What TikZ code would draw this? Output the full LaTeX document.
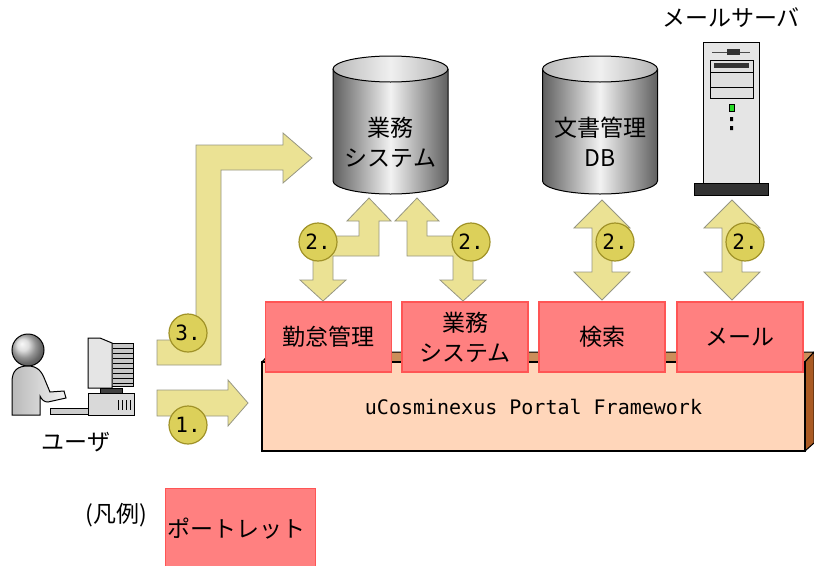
\documentclass[tikz,border=0pt]{standalone}
\usepackage{fontspec}
\setmainfont{Noto Sans CJK JP}
\newfontfamily\latinmono{DejaVu Sans Mono}
\usetikzlibrary{arrows.meta, positioning, calc}
\definecolor{portletred}{RGB}{255,128,128}
\definecolor{portletline}{RGB}{255,85,85}
\definecolor{framepeach}{RGB}{255,214,186}
\definecolor{frametop}{RGB}{204,142,90}
\definecolor{frameside}{RGB}{170,90,35}
\definecolor{arrowyellow}{RGB}{235,226,148}
\definecolor{arrowline}{RGB}{150,150,130}
\definecolor{ballyellow}{RGB}{220,208,90}
\definecolor{ballline}{RGB}{160,146,40}
\definecolor{ledgreen}{RGB}{40,220,40}
\newcommand{\jfont}{\fontsize{23}{30}\selectfont}

\begin{document}
\begin{tikzpicture}[x=1pt, y=-1pt,
  portlet/.style={draw=portletline, fill=portletred, line width=1.2pt, minimum width=126pt, minimum height=70pt, inner sep=0pt, align=center, font=\jfont},
  blockarrow/.style={fill=arrowyellow, draw=arrowline, line width=0.8pt, line join=miter},
  numball/.style={circle, fill=ballyellow, draw=ballline, line width=1.2pt, minimum size=38pt, inner sep=0pt, font=\latinmono\fontsize{21}{21}\selectfont},
  cylbody/.style={left color=gray!75!black, right color=gray!75!black, middle color=gray!10},
  cyltop/.style={left color=gray!55, right color=gray!60, middle color=gray!12},
]
  \useasboundingbox (0,0) rectangle (814,565);

  % databases
  \foreach \cx in {390.5, 600} {
    \shade[cylbody] (\cx-57.5,69) -- (\cx-57.5,181) arc[start angle=180, end angle=0, x radius=57.5, y radius=13] -- (\cx+57.5,69) -- cycle;
    \draw[line width=1pt] (\cx-57.5,69) -- (\cx-57.5,181) arc[start angle=180, end angle=0, x radius=57.5, y radius=13] -- (\cx+57.5,69);
    \shade[cyltop, draw=black, line width=1pt] (\cx,69) ellipse[x radius=57.5, y radius=13];
  }
  \node[font=\jfont, align=center] (gyomudb) at (390.5,142) {業務\\システム};
  \node[font=\jfont, align=center] (bunshodb) at (600,141.5) {文書管理\\DB};

  % mail server
  \node[font=\jfont] (mailsrv) at (731,18) {メールサーバ};
  \filldraw[fill=gray!20, line width=1pt] (703,42) rectangle (759,183);
  \draw[gray!60!black, line width=1pt] (712,52) -- (750,52);
  \fill[gray!40!black] (727,49) rectangle (740,55);
  \filldraw[fill=gray!25, line width=1pt] (710,60) rectangle (753,98);
  \fill[gray!40!black] (714,63) rectangle (749,68);
  \draw[line width=0.8pt] (710,72) -- (753,72) (710,87) -- (753,87);
  \filldraw[fill=ledgreen, draw=black, line width=0.6pt] (729,104) rectangle (734,111);
  \fill (730,117) rectangle (733,121) (730,126) rectangle (733,130);
  \filldraw[fill=gray!40!black, line width=1pt] (694,183) rectangle (768,195);

  % user at the terminal
  \shade[ball color=gray!35] (28,350) circle (16);
  \draw[line width=1pt] (28,350) circle (16);
  \shade[left color=gray!55, right color=gray!10, draw=black, line width=1pt]
    (12,415) -- (12,382) .. controls (12,370) and (18,366) .. (28,366)
    .. controls (38,366) and (42,372) .. (45,380) -- (50,392) -- (64,391) -- (66,398)
    -- (48,402) .. controls (44,402) and (42,400) .. (40,396) -- (40,415) -- cycle;
  \filldraw[fill=gray!40, line width=1pt] (50,408) rectangle (88,414);
  \filldraw[fill=gray!45, line width=1pt] (110,343) rectangle (133,386);
  \foreach \i in {0,...,7}
    \draw[line width=0.8pt] (113,{348+\i*5}) -- (133,{348+\i*5});
  \filldraw[fill=gray!20, line width=1pt] (88,338) -- (100,338) -- (112,343) -- (112,388) -- (88,388) -- cycle;
  \filldraw[fill=gray!50!black, line width=1pt] (100,388) rectangle (122,393);
  \filldraw[fill=gray!30, line width=1pt] (88,393) rectangle (134,415);
  \foreach \i in {0,...,3}
    \draw[line width=1pt] ({118+\i*4},400) -- ({118+\i*4},410);
  \node[font=\jfont] (user) at (76,442) {ユーザ};

  % framework
  \filldraw[fill=frametop, line width=1pt] (262,362) -- (271,352) -- (814,352) -- (805,362) -- cycle;
  \filldraw[fill=frameside, line width=1pt] (805,362) -- (814,352) -- (814,443) -- (805,451) -- cycle;
  \node[draw, fill=framepeach, line width=1.2pt, minimum width=543pt, minimum height=89pt, inner sep=0pt,
        font=\latinmono\fontsize{20}{20}\selectfont] (framework) at (533.5,406.5) {uCosminexus Portal Framework};

  % portlets
  \node[portlet] (kintai) at (328.5,337) {勤怠管理};
  \node[portlet] (gyomu) at (465,337) {業務\\システム};
  \node[portlet] (kensaku) at (602,337) {検索};
  \node[portlet] (mail) at (740,337) {メール};

  % request arrows
  \filldraw[blockarrow] (157,340) -- (196,340) -- (196,145) -- (283,145) -- (283,133) -- (312,158)
    -- (283,183) -- (283,170) -- (221,170) -- (221,365) -- (157,365) -- cycle;
  \filldraw[blockarrow] (157,390) -- (228,390) -- (228,380) -- (248,403) -- (228,426) -- (228,416) -- (157,416) -- cycle;
  \foreach \s in {1,-1} {
    \begin{scope}[shift={(393,0)}, xscale=\s]
      \filldraw[blockarrow] (-24,198) -- (-2,221) -- (-14,221) -- (-14,256) -- (-60,256) -- (-60,280)
        -- (-47,280) -- (-70,301) -- (-93,280) -- (-80,280) -- (-80,236) -- (-34,236) -- (-34,221) -- (-46,221) -- cycle;
    \end{scope}
  }
  \foreach \ax in {602,732}
    \filldraw[blockarrow] (\ax,200) -- (\ax+28,228) -- (\ax+10,228) -- (\ax+10,272) -- (\ax+28,272) -- (\ax,300)
      -- (\ax-28,272) -- (\ax-10,272) -- (\ax-10,228) -- (\ax-28,228) -- cycle;

  % step numbers
  \node[numball] (stepone) at (188,425) {1.};
  \node[numball] (stepthree) at (188,333) {3.};
  \node[numball] (steptwoa) at (318,242) {2.};
  \node[numball] (steptwob) at (471,242) {2.};
  \node[numball] (steptwoc) at (615,242) {2.};
  \node[numball] (steptwod) at (745,242) {2.};

  % legend
  \node[font=\jfont] (legend) at (116,515) {(凡例)};
  \node[draw=portletline, fill=portletred, line width=1.2pt, minimum width=150pt, minimum height=80pt,
        anchor=north west, text width=146pt, align=left, inner sep=2pt, font=\jfont] (legendbox) at (165,488) {ポートレット};
\end{tikzpicture}
\end{document}
